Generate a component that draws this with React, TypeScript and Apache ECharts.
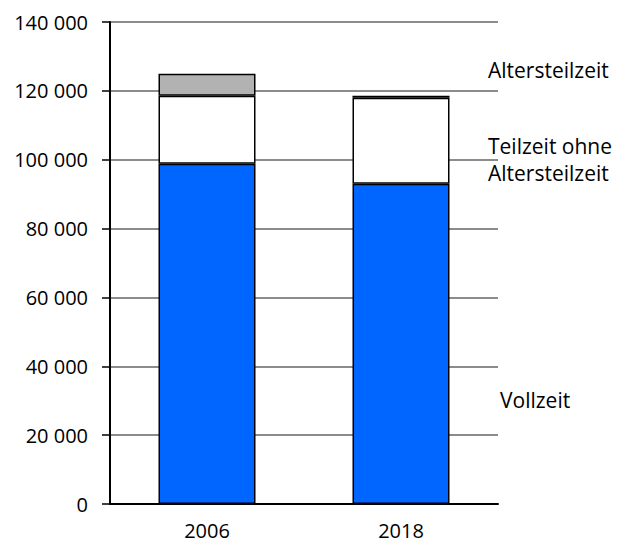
import React, { useEffect, useRef } from "react";
import * as echarts from "echarts";

const categories = ["2006", "2018"];
const vollzeit = [98800, 93000];
const teilzeit = [19800, 25000];
const altersteilzeit = [6400, 600];
const yTicks = [0, 20000, 40000, 60000, 80000, 100000, 120000, 140000];

const FONT = "Open Sans";

export default function App() {
  const ref = useRef<HTMLDivElement>(null);
  useEffect(() => {
    if (!ref.current) return;
    const chart = echarts.init(ref.current, undefined, { renderer: "svg" });
    const barStyle = (color: string) => ({
      color,
      borderColor: "#000",
      borderWidth: 1.5,
    });
    const note = (text: string, x: number, y: number) => ({
      type: "text",
      x,
      y,
      style: {
        text,
        font: `21px "${FONT}"`,
        fill: "#000",
        textVerticalAlign: "middle",
      },
    });
    chart.setOption({
      animation: false,
      backgroundColor: "#fff",
      textStyle: { fontFamily: FONT },
      grid: { left: 110, right: 119, top: 22, bottom: 41, containLabel: false },
      xAxis: {
        type: "category",
        data: categories,
        axisLine: { lineStyle: { color: "#000", width: 2 } },
        axisTick: { show: false },
        axisLabel: {
          color: "#000",
          fontSize: 20,
          lineHeight: 20,
          fontFamily: FONT,
          margin: 16,
        },
      },
      yAxis: {
        type: "value",
        min: yTicks[0],
        max: yTicks[yTicks.length - 1],
        interval: 20000,
        axisLine: { show: true, lineStyle: { color: "#000", width: 2 } },
        axisTick: { show: true, length: 8, lineStyle: { color: "#000", width: 1.5 } },
        axisLabel: {
          color: "#000",
          fontSize: 20,
          fontFamily: FONT,
          margin: 22,
          formatter: (v: number) =>
            String(v).replace(/\B(?=(\d{3})+(?!\d))/g, " "),
        },
        splitLine: { show: true, lineStyle: { color: "#8c8c8c", width: 2 } },
      },
      series: [
        {
          name: "Vollzeit",
          type: "bar",
          stack: "s",
          barWidth: "50%",
          data: vollzeit,
          itemStyle: barStyle("#0066ff"),
        },
        {
          name: "Teilzeit ohne Altersteilzeit",
          type: "bar",
          stack: "s",
          data: teilzeit,
          itemStyle: barStyle("#ffffff"),
        },
        {
          name: "Altersteilzeit",
          type: "bar",
          stack: "s",
          data: altersteilzeit,
          itemStyle: barStyle("#b2b2b2"),
        },
      ],
      graphic: [
        note("Altersteilzeit", 488, 70),
        note("Teilzeit ohne", 488, 146),
        note("Altersteilzeit", 488, 173),
        note("Vollzeit", 500, 400),
      ],
    });
    return () => chart.dispose();
  }, []);
  return (
    <div
      ref={ref}
      style={{ position: "absolute", left: 0, top: 0, width: 617, height: 545 }}
    />
  );
}
